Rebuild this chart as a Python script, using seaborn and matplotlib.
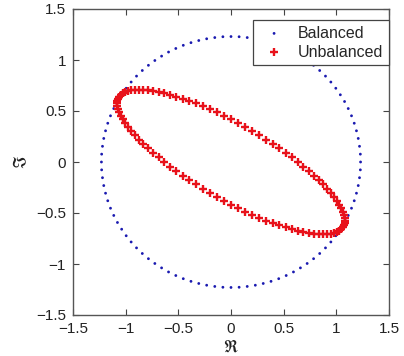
import matplotlib
matplotlib.use("Agg")
import matplotlib.pyplot as plt
import seaborn as sns
import pandas as pd

# Balanced: points on a circle (real, imaginary)
balanced_re = [1.230,1.228,1.220,1.208,1.191,1.170,1.144,1.113,1.078,1.038,0.995,0.948,0.897,0.842,0.784,0.723,0.659,0.593,0.524,0.453,0.380,0.306,0.231,0.154,0.077,0.000,
               -0.077,-0.154,-0.231,-0.306,-0.380,-0.453,-0.524,-0.593,-0.659,-0.723,-0.784,-0.842,-0.897,-0.948,-0.995,-1.038,-1.078,-1.113,-1.144,-1.170,-1.191,-1.208,-1.220,-1.228,-1.230,
               -1.228,-1.220,-1.208,-1.191,-1.170,-1.144,-1.113,-1.078,-1.038,-0.995,-0.948,-0.897,-0.842,-0.784,-0.723,-0.659,-0.593,-0.524,-0.453,-0.380,-0.306,-0.231,-0.154,-0.077,0.000,
               0.077,0.154,0.231,0.306,0.380,0.453,0.524,0.593,0.659,0.723,0.784,0.842,0.897,0.948,0.995,1.038,1.078,1.113,1.144,1.170,1.191,1.208,1.220,1.228]
balanced_im = [0.000,0.077,0.154,0.231,0.306,0.380,0.453,0.524,0.593,0.659,0.723,0.784,0.842,0.897,0.948,0.995,1.038,1.078,1.113,1.144,1.170,1.191,1.208,1.220,1.228,1.230,
               1.228,1.220,1.208,1.191,1.170,1.144,1.113,1.078,1.038,0.995,0.948,0.897,0.842,0.784,0.723,0.659,0.593,0.524,0.453,0.380,0.306,0.231,0.154,0.077,0.000,
               -0.077,-0.154,-0.231,-0.306,-0.380,-0.453,-0.524,-0.593,-0.659,-0.723,-0.784,-0.842,-0.897,-0.948,-0.995,-1.038,-1.078,-1.113,-1.144,-1.170,-1.191,-1.208,-1.220,-1.228,-1.230,
               -1.228,-1.220,-1.208,-1.191,-1.170,-1.144,-1.113,-1.078,-1.038,-0.995,-0.948,-0.897,-0.842,-0.784,-0.723,-0.659,-0.593,-0.524,-0.453,-0.380,-0.306,-0.231,-0.154,-0.077]

# Unbalanced: points on a tilted ellipse (real, imaginary)
unbalanced_re = [1.080,1.078,1.071,1.061,1.046,1.027,1.004,0.977,0.946,0.912,0.874,0.832,0.787,0.739,0.688,0.635,0.579,0.520,0.460,0.398,0.334,0.269,0.202,0.135,0.068,0.000,
                 -0.068,-0.135,-0.202,-0.269,-0.334,-0.398,-0.460,-0.520,-0.579,-0.635,-0.688,-0.739,-0.787,-0.832,-0.874,-0.912,-0.946,-0.977,-1.004,-1.027,-1.046,-1.061,-1.071,-1.078,-1.080,
                 -1.078,-1.071,-1.061,-1.046,-1.027,-1.004,-0.977,-0.946,-0.912,-0.874,-0.832,-0.787,-0.739,-0.688,-0.635,-0.579,-0.520,-0.460,-0.398,-0.334,-0.269,-0.202,-0.135,-0.068,0.000,
                 0.068,0.135,0.202,0.269,0.334,0.398,0.460,0.520,0.579,0.635,0.688,0.739,0.787,0.832,0.874,0.912,0.946,0.977,1.004,1.027,1.046,1.061,1.071,1.078]
unbalanced_im = [-0.574,-0.599,-0.622,-0.642,-0.660,-0.675,-0.688,-0.697,-0.704,-0.709,-0.710,
                 -0.709,-0.704,-0.697,-0.688,-0.675,-0.660,-0.642,-0.622,-0.599,-0.574,-0.547,-0.518,-0.486,-0.453,-0.417,-0.380,-0.342,-0.302,-0.261,-0.219,-0.177,-0.133,-0.089,-0.045,0.000,
                 0.045,0.089,0.133,0.177,0.219,0.261,0.302,0.342,0.380,0.417,0.453,0.486,0.518,0.547,0.574,0.599,0.622,0.642,0.660,0.675,0.688,0.697,0.704,0.709,
                 0.710,0.709,0.704,0.697,0.688,0.675,0.660,0.642,0.622,0.599,0.574,0.547,0.518,0.486,0.453,0.417,0.380,0.342,0.302,0.261,0.219,0.177,0.133,0.089,0.045,0.000,
                 -0.045,-0.089,-0.133,-0.177,-0.219,-0.261,-0.302,-0.342,-0.380,-0.417,-0.453,-0.486,-0.518,-0.547]

series_labels = ["Balanced", "Unbalanced"]
ticks = [-1.5, -1, -0.5, 0, 0.5, 1, 1.5]
tick_labels = ["\u22121.5", "\u22121", "\u22120.5", "0", "0.5", "1", "1.5"]

sns.set_theme(style="white")
plt.rcParams["font.family"] = ["Liberation Sans", "DejaVu Sans"]
plt.rcParams["mathtext.fontset"] = "stix"

fig = plt.figure(figsize=(4.04, 3.56), dpi=100)
ax = fig.add_axes([73/404, 1 - 315/356, 316/404, 306/356])

df_b = pd.DataFrame({"re": balanced_re, "im": balanced_im})
df_u = pd.DataFrame({"re": unbalanced_re, "im": unbalanced_im})

sns.scatterplot(data=df_b, x="re", y="im", ax=ax, marker="o", s=4, color="#1a1ab0",
                edgecolor="none", linewidth=0, label=series_labels[0], zorder=2)
sns.scatterplot(data=df_u, x="re", y="im", ax=ax, marker="+", s=32, color="#e8121b",
                linewidth=1.7, label=series_labels[1], zorder=3)

ax.set_xlim(-1.5, 1.5)
ax.set_ylim(-1.5, 1.5)
ax.set_xticks(ticks)
ax.set_xticklabels(tick_labels)
ax.set_yticks(ticks)
ax.set_yticklabels(tick_labels)
ax.tick_params(direction="in", length=4, width=0.8, color="#444444", labelsize=11,
               top=True, right=True, bottom=True, left=True, pad=5, labelcolor="#222222")
for sp in ax.spines.values():
    sp.set_color("#555555")
    sp.set_linewidth(1.0)
ax.grid(False)

ax.set_xlabel(r"$\Re$", fontsize=12, labelpad=1, color="#222222")
ax.set_ylabel(r"$\Im$", fontsize=12, labelpad=5, color="#222222")

leg = ax.legend(loc="upper right", bbox_to_anchor=(1.0, (315 - 20) / 306), borderaxespad=0,
                fontsize=11.5, frameon=True, fancybox=False, handlelength=2.0,
                handletextpad=0.5, labelspacing=0.25, borderpad=0.35, markerscale=1.0)
leg.get_frame().set_edgecolor("#444444")
leg.get_frame().set_linewidth(0.9)
leg.get_frame().set_alpha(1)

fig.savefig("out.png", dpi=100)
